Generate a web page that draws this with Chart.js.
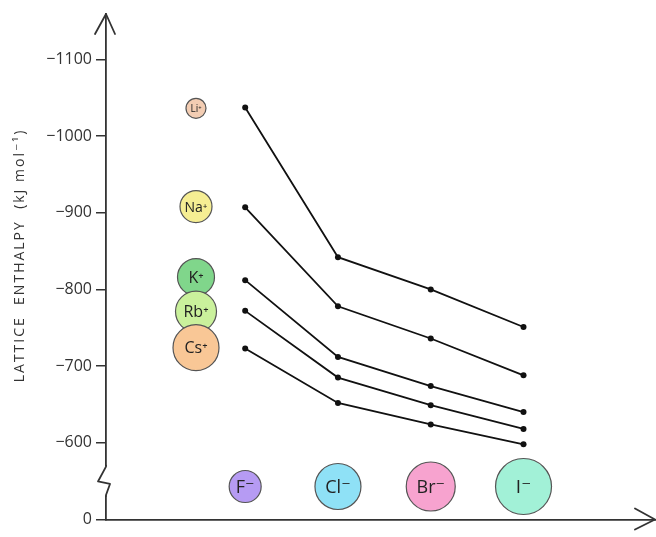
<!DOCTYPE html>
<html>
<head>
<meta charset="utf-8">
<script src="https://cdn.jsdelivr.net/npm/chart.js@4/dist/chart.umd.min.js"></script>
<style>
  html, body { margin: 0; padding: 0; background: #fff; overflow: hidden; }
  canvas { display: block; }
</style>
</head>
<body>
<canvas id="grfk" width="656" height="537"></canvas>
<script>
// anions along the bottom, cations down the left side
const anions = ['F\u207B', 'Cl\u207B', 'Br\u207B', 'I\u207B'];
const anionX = [1.5, 2.5, 3.5, 4.5];
const anionY = -543;
const cations = ['Li\u207A', 'Na\u207A', 'K\u207A', 'Rb\u207A', 'Cs\u207A'];
const cationX = 0.97;
const cationY = [-1036, -908, -816, -771, -724];

// lattice enthalpies (kJ/mol), F- Cl- Br- I-
const liValues = [-1037, -842, -800, -751];
const naValues = [-907, -778, -736, -688];
const kValues = [-812, -712, -674, -640];
const rbValues = [-772, -685, -649, -618];
const csValues = [-723, -652, -624, -598];

// y axis is broken: the bottom tick stands for 0
const yTicks = [-1100, -1000, -900, -800, -700, -600, -500];
const yTickLabels = ['\u22121100', '\u22121000', '\u2212900', '\u2212800', '\u2212700', '\u2212600', '0'];

const cationColors = ['#f3cdb3', '#f6ee93', '#80d68b', '#caf19c', '#f9c796'];
const cationRadius = [10, 16, 18.5, 20.5, 23];
const cationFont = [10, 14, 16, 16, 16];
const anionColors = ['#b69bf3', '#8fe1f6', '#f7a3cf', '#a2f1d7'];
const anionRadius = [16, 23, 24.5, 28];
const anionFont = [18, 18, 18, 19];

const FONT = "'Open Sans', 'DejaVu Sans', sans-serif";
const INK = '#333';

function seriesLine(vals) {
    return {
        type: 'scatter',
        showLine: true,
        data: vals.map((v, i) => ({ x: anionX[i], y: v })),
        borderColor: '#111',
        borderWidth: 1.8,
        pointRadius: 3,
        pointBackgroundColor: '#111',
        pointBorderWidth: 0
    };
}

const cationSet = {
    type: 'scatter',
    data: cationY.map(v => ({ x: cationX, y: v })),
    pointRadius: cationRadius,
    pointBackgroundColor: cationColors,
    pointBorderColor: '#555',
    pointBorderWidth: 1.2,
    labelsText: cations,
    labelsSize: cationFont
};

const anionSet = {
    type: 'scatter',
    data: anionX.map(x => ({ x: x, y: anionY })),
    pointRadius: anionRadius,
    pointBackgroundColor: anionColors,
    pointBorderColor: '#555',
    pointBorderWidth: 1.2,
    labelsText: anions,
    labelsSize: anionFont
};

// text inside the ion circles
const ionLabels = {
    id: 'ionLabels',
    afterDatasetsDraw(chart) {
        const ctx = chart.ctx;
        chart.data.datasets.forEach((ds, di) => {
            if (!ds.labelsText) return;
            const meta = chart.getDatasetMeta(di);
            meta.data.forEach((pt, i) => {
                ctx.save();
                ctx.fillStyle = '#222';
                ctx.font = ds.labelsSize[i] + 'px ' + FONT;
                ctx.textAlign = 'center';
                ctx.textBaseline = 'middle';
                ctx.fillText(ds.labelsText[i], pt.x, pt.y + 1);
                ctx.restore();
            });
        });
    }
};

// spaced-out letters for the axis title only (tick labels draw later, z:1)
const spacedTitle = {
    id: 'spacedTitle',
    beforeDraw(chart) { chart.ctx.letterSpacing = '2px'; },
    beforeDatasetsDraw(chart) { chart.ctx.letterSpacing = '0px'; }
};

// arrow heads and the axis break squiggle
const axisDecor = {
    id: 'axisDecor',
    afterDraw(chart) {
        const ctx = chart.ctx;
        const { left, right, top, bottom } = chart.chartArea;
        const ys = chart.scales.y;
        const span = bottom - ys.getPixelForValue(-600);
        const yA = bottom - span * 0.32;
        const yB = bottom - span * 0.69;
        ctx.save();
        ctx.strokeStyle = '#fff';
        ctx.lineWidth = 5;
        ctx.beginPath();
        ctx.moveTo(left, yA + 0.5);
        ctx.lineTo(left, yB - 0.5);
        ctx.stroke();
        ctx.strokeStyle = INK;
        ctx.lineWidth = 1.8;
        ctx.lineJoin = 'round';
        ctx.lineCap = 'round';
        ctx.beginPath();
        ctx.moveTo(left, yA + 1);
        ctx.lineTo(left, yA);
        ctx.lineTo(left + 4, yA - 11);
        ctx.lineTo(left - 8, yA - 13.5);
        ctx.lineTo(left, yB);
        ctx.lineTo(left, yB - 1);
        ctx.stroke();
        // up arrow
        ctx.beginPath();
        ctx.moveTo(left - 11, top + 20);
        ctx.lineTo(left, top);
        ctx.lineTo(left + 9, top + 20);
        ctx.stroke();
        // right arrow
        ctx.beginPath();
        ctx.moveTo(right - 20, bottom - 11);
        ctx.lineTo(right, bottom);
        ctx.lineTo(right - 20, bottom + 10);
        ctx.stroke();
        ctx.restore();
    }
};

const ct = document.getElementById('grfk').getContext('2d');
const grfgm = new Chart(ct, {
    type: 'scatter',
    data: {
        datasets: [
            seriesLine(liValues),
            seriesLine(naValues),
            seriesLine(kValues),
            seriesLine(rbValues),
            seriesLine(csValues),
            cationSet,
            anionSet
        ]
    },
    options: {
        responsive: false,
        animation: false,
        layout: { autoPadding: false, padding: { top: 14, right: 1, left: 0, bottom: 0 } },
        plugins: {
            legend: { display: false },
            tooltip: { enabled: false }
        },
        scales: {
            x: {
                type: 'linear',
                min: 0,
                max: 5.917,
                ticks: { display: false },
                grid: { display: false },
                border: { color: INK, width: 1.8 },
                afterFit: s => { s.height = 17.5; }
            },
            y: {
                type: 'linear',
                reverse: true,
                min: -1159,
                max: -500,
                afterBuildTicks: s => { s.ticks = yTicks.map(v => ({ value: v })); },
                ticks: {
                    callback: v => yTickLabels[yTicks.indexOf(v)],
                    color: INK,
                    font: { family: FONT, size: 16 },
                    padding: 4,
                    z: 1
                },
                grid: { drawOnChartArea: false, tickLength: 10, color: INK, lineWidth: 1.5 },
                border: { color: INK, width: 1.8 },
                title: {
                    display: true,
                    // leading spaces nudge the centred title upward like the original
                    text: '    LATTICE  ENTHALPY  (kJ mol\u207B\u00B9)',
                    color: INK,
                    font: { family: FONT, size: 14 },
                    padding: { top: 12, bottom: 0 }
                },
                afterFit: s => { s.width = 106; }
            }
        }
    },
    plugins: [spacedTitle, ionLabels, axisDecor]
});
</script>
</body>
</html>
